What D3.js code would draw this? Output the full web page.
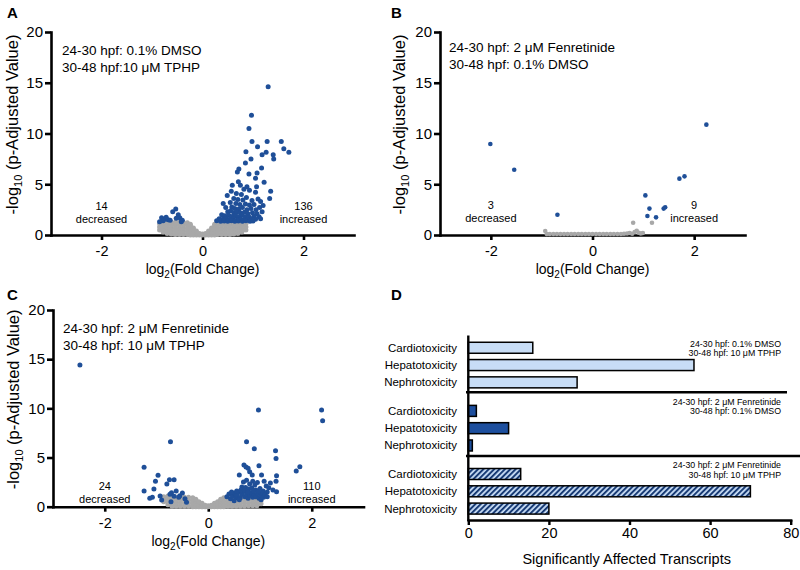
<!DOCTYPE html>
<html><head><meta charset="utf-8">
<script src="https://cdn.jsdelivr.net/npm/d3@7"></script>
<style>body{margin:0;background:#fff}svg{display:block;font-family:"Liberation Sans",Arial,Helvetica,sans-serif}</style>
</head><body>
<svg id="c" width="800" height="570"></svg>
<script>
// ---------- DATA ----------
const xTicksVolcano = [-2, 0, 2];
const yTicksVolcano = [0, 5, 10, 15, 20];
const xTicksBar = [0, 20, 40, 60, 80];

// Panel A: 24-30 hpf 0.1% DMSO / 30-48 hpf 10 uM TPHP
const blueA_down = [[-0.53,2.56],[-0.59,2.3],[-0.48,2.0],[-0.45,1.7],[-0.40,1.45],[-0.81,1.7],[-0.75,1.55],[-0.68,1.5],[-0.78,1.4],[-0.64,1.45],[-0.85,1.3],[-0.52,1.65],[-0.42,1.3],[-0.72,1.75]];
const blueA_up = [[1.30,14.6],[0.97,11.8],[0.92,10.5],[0.98,9.2],[1.09,8.7],[1.28,9.2],[1.56,9.2],[1.61,8.5],[1.71,8.15],[0.86,8.2],[1.26,8.15],[1.18,7.9],[1.40,7.9],[1.41,7.5],[0.96,7.5],[0.85,7.1],[1.17,6.6],[0.72,6.5],[0.69,6.2],[1.08,6.1],[0.92,6.0],[1.05,5.6],[1.22,5.2],[0.71,5.25],[0.75,4.9],[0.59,4.9],[0.88,4.75],[1.07,4.75],[0.82,4.5],[0.93,4.4],[0.57,4.3],[1.05,4.2],[1.35,4.3],[0.67,4.1],[0.77,4.0],[0.49,3.9],[0.87,3.7],[1.33,3.6],[1.10,3.55],[0.41,3.1],
 [0.62,3.6],[0.70,3.5],[0.80,3.45],[0.98,3.4],[1.15,3.3],[0.55,3.2],[0.66,3.1],[0.74,3.0],[0.85,3.05],[0.93,2.95],[1.02,3.0],[1.20,2.9],[0.46,2.7],[0.58,2.75],[0.64,2.6],[0.72,2.55],[0.79,2.7],[0.88,2.5],[0.96,2.6],[1.06,2.5],[1.13,2.7],[0.50,2.3],[0.56,2.4],[0.62,2.2],[0.68,2.3],[0.75,2.2],[0.83,2.25],[0.90,2.1],[0.99,2.2],[1.08,2.1],[1.18,2.3],[0.38,2.0],[0.44,1.9],[0.52,1.95],[0.60,1.85],[0.66,1.9],[0.72,1.8],[0.78,1.95],[0.85,1.8],[0.93,1.75],[1.02,1.85],[1.12,1.8],[0.33,1.6],[0.40,1.55],[0.47,1.6],[0.54,1.55],[0.61,1.6],[0.69,1.5],[0.76,1.55],[0.82,1.5],[0.89,1.55],[0.97,1.5],[1.05,1.55],[1.15,1.6],[0.28,1.4],[0.36,1.35],[0.43,1.38],[0.50,1.35],[0.57,1.4],[0.64,1.35],[0.71,1.38],[0.79,1.35],[0.86,1.4],[0.94,1.35],[1.00,1.38]];
const grayA = [[-0.85,[0.5,0.8,1.1]],[-0.78,[0.3,0.6,0.9,1.2]],[-0.70,[0.15,0.45,0.75,1.0,1.25]],[-0.62,[0.1,0.4,0.7,1.0,1.25]],[-0.54,[0.05,0.35,0.65,0.95,1.25]],[-0.46,[0.05,0.35,0.65,0.95,1.25]],[-0.38,[0.05,0.35,0.65,0.95,1.25]],[-0.30,[0.05,0.35,0.65,0.95,1.2]],[-0.24,[0,0.3,0.6,0.9,1.05]],[-0.18,[0,0.25,0.55,0.7]],[-0.12,[0,0.2,0.4]],[-0.06,[0,0.15]],[0,[0,0.1]],
 [0.06,[0,0.15]],[0.12,[0,0.2,0.4]],[0.18,[0,0.25,0.55,0.7]],[0.24,[0,0.3,0.6,0.9,1.05]],[0.30,[0.05,0.35,0.65,0.95,1.2]],[0.38,[0.05,0.35,0.65,0.95,1.25]],[0.46,[0.05,0.35,0.65,0.95,1.25]],[0.54,[0.05,0.35,0.65,0.95,1.25]],[0.62,[0.1,0.4,0.7,1.0,1.25]],[0.70,[0.15,0.45,0.75,1.0,1.25]],[0.78,[0.3,0.6,0.9,1.2]],[0.86,[0.5,0.8,1.1]]];

// Panel B: 24-30 hpf 2 uM Fenretinide / 30-48 hpf 0.1% DMSO
const blueB_down = [[-2.01,8.97],[-1.54,6.43],[-0.69,2.0]];
const blueB_up = [[2.24,10.87],[1.81,5.78],[1.71,5.55],[1.04,3.9],[1.12,2.6],[1.08,1.87],[1.25,1.74],[1.40,2.6],[1.43,2.73]];
const grayB = [[-0.93,0.39],[-0.90,0.1],[-0.84,0.1],[-0.77,0.1],[-0.70,0.1],[-0.63,0.1],[-0.56,0.1],[-0.49,0.1],[-0.42,0.1],[-0.35,0.1],[-0.28,0.1],[-0.21,0.1],[-0.14,0.1],[-0.07,0.1],[0,0.1],[0.07,0.1],[0.14,0.1],[0.21,0.1],[0.28,0.1],[0.35,0.1],[0.42,0.1],[0.49,0.1],[0.56,0.1],[0.62,0.12],[0.68,0.15],[0.73,0.2],[0.78,0.12],[0.83,0.3],[0.87,0.42],[0.91,0.22],[0.95,0.15],[0.99,0.2],[0.80,1.21],[1.17,1.21]];

// Panel C: 24-30 hpf 2 uM Fenretinide / 30-48 hpf 10 uM TPHP
const blueC_down = [[-2.48,14.4],[-0.73,6.6],[-1.24,4.0],[-0.97,3.2],[-0.75,2.75],[-0.66,2.75],[-1.02,2.6],[-1.24,1.6],[-0.62,1.6],[-0.71,1.43],[-0.74,1.26],[-0.55,1.12],[-0.57,0.95],[-0.93,1.09],[-1.13,0.85],[-1.08,0.95],[-0.90,0.68],[-0.72,0.5],[-0.42,0.45],[-0.80,2.3],[-0.50,1.4],[-0.45,0.8],[-1.05,1.8],[-0.66,1.05]];
const blueC_up = [[0.97,9.84],[2.19,9.84],[2.21,8.75],[0.74,6.6],[0.89,5.9],[1.30,5.7],[1.31,4.9],[0.69,4.24],[0.73,4.04],[0.77,3.9],[0.80,3.56],[0.98,4.17],[1.77,4.07],[1.70,3.63],[0.60,3.22],[0.85,3.22],[1.03,3.22],[1.32,3.15],[1.31,2.6],[1.17,1.93],[1.32,1.53],
 [0.68,2.5],[0.74,2.7],[0.80,2.3],[0.86,2.6],[0.90,2.2],[0.95,2.45],[1.08,2.6],[1.12,2.1],[1.20,2.4],[0.65,2.0],[0.72,1.95],[0.78,1.8],[0.84,1.9],[0.92,1.7],[1.00,1.85],[1.06,1.6],[1.14,1.5],[1.25,1.7],
 [0.36,1.0],[0.40,1.3],[0.43,0.8],[0.47,1.1],[0.50,1.4],[0.53,0.9],[0.56,1.2],[0.59,1.5],[0.62,0.9],[0.65,1.25],[0.68,1.55],[0.71,1.0],[0.74,1.3],[0.77,0.85],[0.80,1.15],[0.83,1.45],[0.86,0.95],[0.89,1.25],[0.92,1.0],[0.95,1.35],[0.98,0.85],[1.01,1.15],[1.04,1.4],[1.07,0.95],[1.10,1.2],[1.14,1.0],[0.45,1.5],[0.55,1.6],[0.63,1.7],[0.70,1.65],[0.76,1.5],[0.88,1.6],[0.97,1.55],[1.02,0.7],[0.60,0.7],[0.50,0.6]];
const grayC = [[-0.86,[0.5,0.8,1.0]],[-0.78,[0.2,0.5,0.8,1.1]],[-0.70,[0.05,0.35,0.65,0.95]],[-0.62,[0.05,0.35,0.65,0.95]],[-0.54,[0.05,0.35,0.65,0.95]],[-0.46,[0.05,0.35,0.65,0.95]],[-0.38,[0.05,0.35,0.65,0.95]],[-0.30,[0,0.3,0.6,0.9]],[-0.24,[0,0.3,0.6,0.75]],[-0.18,[0,0.25,0.5]],[-0.12,[0,0.2,0.35]],[-0.06,[0,0.15]],[0,[0,0.1]],
 [0.06,[0,0.15]],[0.12,[0,0.2,0.35]],[0.18,[0,0.25,0.5]],[0.24,[0,0.3,0.6,0.75]],[0.30,[0,0.3,0.6,0.9]],[0.38,[0.05,0.35,0.65,0.95]],[0.46,[0.05,0.35,0.65,0.95]],[0.54,[0.05,0.35,0.65,0.95]],[0.62,[0.05,0.35,0.65,0.95]],[0.70,[0.05,0.35,0.65,0.95]],[0.78,[0.1,0.4,0.7,1.0]],[0.86,[0.1,0.4,0.7,1.0]],[0.94,[0.1,0.4,0.7,1.0]],[1.02,[0.3,0.6]]];

// Panel D
const toxCategories = ["Cardiotoxicity", "Hepatotoxicity", "Nephrotoxicity"];
const groupLine1 = ["24-30 hpf:  0.1% DMSO", "24-30 hpf: 2 \u03bcM Fenretinide", "24-30 hpf:  2 \u03bcM Fenretinide"];
const groupLine2 = ["30-48 hpf: 10 \u03bcM TPHP", "30-48 hpf: 0.1% DMSO", "30-48 hpf: 10 \u03bcM TPHP"];
const valuesDMSO_TPHP = [16, 56, 27];
const valuesFen_DMSO = [2, 10, 1];
const valuesFen_TPHP = [13, 70, 20];

// ---------- DRAWING ----------
const svg = d3.select("#c");
const BLUE = "#1f4f98", GRAY = "#a8a8a8", LIGHT = "#c8ddf6", DARK = "#1d4f9e", STRIPE = "#173a74";

const defs = svg.append("defs");
const pat = defs.append("pattern").attr("id", "hatch").attr("patternUnits", "userSpaceOnUse")
  .attr("width", 3.8).attr("height", 3.8).attr("patternTransform", "rotate(45)");
pat.append("rect").attr("width", 3.8).attr("height", 3.8).attr("fill", LIGHT);
pat.append("line").attr("x1", 1).attr("y1", 0).attr("x2", 1).attr("y2", 3.8).attr("stroke", STRIPE).attr("stroke-width", 2);

function styleAxis(g, w) {
  g.select(".domain").attr("stroke", "#000").attr("stroke-width", w).attr("stroke-linecap", "square");
  g.selectAll(".tick line").attr("stroke", "#000").attr("stroke-width", w);
  g.selectAll(".tick text").attr("fill", "#000");
  g.attr("font-family", null);
}

function panelLabel(t, x, y) {
  svg.append("text").attr("x", x).attr("y", y).attr("font-size", 15).attr("font-weight", "bold").text(t);
}

function volcano(o) {
  const x = d3.scaleLinear().domain([-3, 3]).range(o.xr);
  const y = d3.scaleLinear().domain([0, 20]).range(o.yr);
  const g = svg.append("g");
  const ax = g.append("g").attr("transform", `translate(0,${o.yr[0]})`)
    .call(d3.axisBottom(x).tickValues(xTicksVolcano).tickSize(5).tickPadding(6).tickSizeOuter(0).tickFormat(d => d < 0 ? "-" + Math.abs(d) : d));
  ax.attr("font-size", 14.5);
  styleAxis(ax, 2.6);
  const ay = g.append("g").attr("transform", `translate(${o.xr[0]},0)`)
    .call(d3.axisLeft(y).tickValues(yTicksVolcano).tickSize(6).tickPadding(2).tickSizeOuter(0));
  ay.attr("font-size", 15);
  styleAxis(ay, 2.6);
  const grayPts = Array.isArray(o.gray[0][1]) ? o.gray.flatMap(([gx, ys]) => ys.map(gy => [gx, gy])) : o.gray;
  g.append("g").selectAll("circle").data(grayPts).join("circle")
    .attr("cx", d => x(d[0])).attr("cy", d => y(d[1])).attr("r", o.r).attr("fill", GRAY);
  g.append("g").selectAll("circle").data(o.down.concat(o.up)).join("circle")
    .attr("cx", d => x(d[0])).attr("cy", d => y(d[1])).attr("r", o.r).attr("fill", BLUE);
  o.cond.forEach((t, i) => g.append("text").attr("x", o.condX).attr("y", o.condY + i * 17).attr("font-size", 13.5).text(t));
  const cnt = (cx, lines) => lines.forEach((t, i) => g.append("text").attr("x", cx).attr("y", o.cntY + i * 13).attr("text-anchor", "middle").attr("font-size", 11).text(t));
  cnt(x(-2), [String(o.nDown), "decreased"]);
  cnt(x(2), [String(o.nUp), "increased"]);
  const xt = g.append("text").attr("x", (o.xr[0] + o.xr[1]) / 2).attr("y", o.yr[0] + 39).attr("text-anchor", "middle").attr("font-size", 14);
  xt.append("tspan").text("log");
  xt.append("tspan").attr("font-size", 10).attr("dy", 4).text("2");
  xt.append("tspan").attr("dy", -4).text("(Fold Change)");
  const cy = (o.yr[0] + o.yr[1]) / 2 - 9;
  const yt = g.append("text").attr("transform", `translate(${o.ytX},${cy}) rotate(-90)`).attr("text-anchor", "middle").attr("font-size", 16.5);
  yt.append("tspan").text("-log");
  yt.append("tspan").attr("font-size", 11).attr("dy", 4).text("10");
  yt.append("tspan").attr("dy", -4).text(" (p-Adjusted Value)");
}

panelLabel("A", 7, 18);
volcano({ xr: [51, 354], yr: [235, 32], r: 2.5, gray: grayA, down: blueA_down, up: blueA_up, nDown: 14, nUp: 136,
  cond: ["24-30 hpf: 0.1% DMSO", "30-48 hpf:10 \u03bcM TPHP"], condX: 62, condY: 55, cntY: 210, ytX: 18 });

panelLabel("B", 391, 18);
volcano({ xr: [440, 745], yr: [235, 32], r: 2.3, gray: grayB, down: blueB_down, up: blueB_up, nDown: 3, nUp: 9,
  cond: ["24-30 hpf: 2 \u03bcM Fenretinide", "30-48 hpf: 0.1% DMSO"], condX: 449, condY: 52, cntY: 209, ytX: 405 });

panelLabel("C", 7, 300);
volcano({ xr: [53, 363.5], yr: [506.7, 310], r: 2.5, gray: grayC, down: blueC_down, up: blueC_up, nDown: 24, nUp: 110,
  cond: ["24-30 hpf: 2 \u03bcM Fenretinide", "30-48 hpf: 10 \u03bcM TPHP"], condX: 63, condY: 333, cntY: 490, ytX: 19 });

// ---------- Panel D ----------
panelLabel("D", 391, 300);
const groups = [
  { vals: valuesDMSO_TPHP, fill: LIGHT, labOff: -1 },
  { vals: valuesFen_DMSO, fill: DARK, labOff: -6.3 },
  { vals: valuesFen_TPHP, fill: "url(#hatch)", labOff: -6 }
];
const xD = d3.scaleLinear().domain([0, 80]).range([468.3, 790.7]);
const yD = d3.scaleLinear().domain([0, 10.6]).range([336.7, 520]);
const rowPos = (gi, i) => gi * 3.65 + i + 0.64;
const gD = svg.append("g");
const barH = 11;
groups.forEach((grp, gi) => {
  gD.append("g").selectAll("rect").data(grp.vals).join("rect")
    .attr("x", xD(0)).attr("y", (d, i) => yD(rowPos(gi, i)) - barH / 2)
    .attr("width", d => xD(d) - xD(0)).attr("height", barH)
    .attr("fill", grp.fill).attr("stroke", "#000").attr("stroke-width", 1.5);
  gD.append("g").selectAll("text").data(toxCategories).join("text")
    .attr("x", 457).attr("y", (d, i) => yD(rowPos(gi, i)) + 4)
    .attr("text-anchor", "end").attr("font-size", 11.5).text(d => d);
  const ly = yD(rowPos(gi, 0)) + grp.labOff;
  gD.append("text").attr("x", 781).attr("y", ly).attr("text-anchor", "end").attr("font-size", 8.8).text(groupLine1[gi]);
  gD.append("text").attr("x", 781).attr("y", ly + 9.6).attr("text-anchor", "end").attr("font-size", 8.8).text(groupLine2[gi]);
});
[[yD(3.21), 787], [yD(6.9), 800]].forEach(([yy, xe]) => {
  gD.append("line").attr("x1", 466).attr("x2", xe).attr("y1", yy).attr("y2", yy).attr("stroke", "#000").attr("stroke-width", 2.4);
});
const axD = gD.append("g").attr("transform", `translate(0,${yD.range()[1]})`)
  .call(d3.axisBottom(xD).tickValues(xTicksBar).tickSize(5).tickPadding(3).tickSizeOuter(0));
axD.attr("font-size", 14.5);
styleAxis(axD, 2.4);
gD.append("line").attr("x1", xD(0)).attr("x2", xD(0)).attr("y1", yD.range()[0]).attr("y2", yD.range()[1])
  .attr("stroke", "#000").attr("stroke-width", 2.4).attr("stroke-linecap", "square");
gD.append("text").attr("x", 626.7).attr("y", 564).attr("text-anchor", "middle").attr("font-size", 14.5).text("Significantly Affected Transcripts");
</script>
</body></html>
